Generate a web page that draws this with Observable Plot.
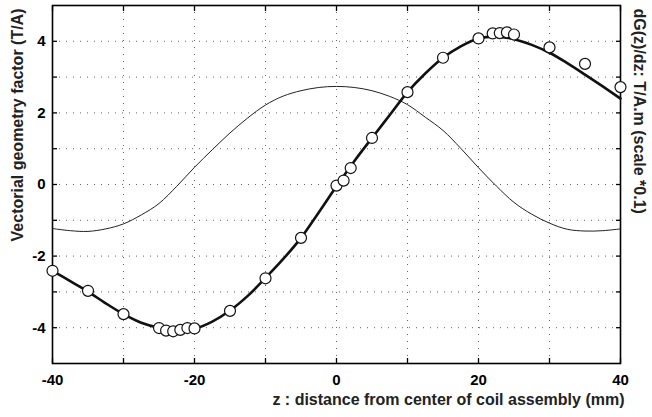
<!DOCTYPE html>
<html>
<head>
<meta charset="utf-8">
<script src="https://cdn.jsdelivr.net/npm/d3@7"></script>
<script src="https://cdn.jsdelivr.net/npm/@observablehq/plot@0.6"></script>
<style>
  html, body { margin: 0; padding: 0; background: white; }
  #chart svg { display: block; }
</style>
</head>
<body>
<div id="chart"></div>
<script>
// Smooth curve samples (z in mm)
const zCurve = [-40,-37.5,-35,-32.5,-30,-27.5,-25,-22.5,-20,-17.5,-15,-12.5,-10,-7.5,-5,-2.5,0,2.5,5,7.5,10,12.5,15,17.5,20,22.5,25,27.5,30,32.5,35,37.5,40];
// Vectorial geometry factor (T/A), thick line
const gCurve = [-2.41,-2.70,-2.99,-3.32,-3.62,-3.86,-4.00,-4.06,-4.03,-3.83,-3.52,-3.11,-2.61,-2.08,-1.49,-0.78,-0.05,0.65,1.30,1.94,2.58,3.10,3.54,3.86,4.08,4.13,4.06,3.90,3.68,3.39,3.07,2.74,2.40];
// dG(z)/dz scaled *0.1, thin line
const dgCurve = [-1.23,-1.29,-1.31,-1.24,-1.10,-0.85,-0.53,-0.05,0.48,0.97,1.44,1.86,2.22,2.47,2.62,2.71,2.74,2.71,2.62,2.46,2.23,1.88,1.51,1.01,0.47,-0.04,-0.50,-0.83,-1.08,-1.25,-1.30,-1.29,-1.24];
// Measured points (circles)
const zPts = [-40,-35,-30,-25,-24,-23,-22,-21,-20,-15,-10,-5,0,1,2,5,10,15,20,22,23,24,25,30,35,40];
const gPts = [-2.41,-2.97,-3.62,-4.01,-4.08,-4.10,-4.06,-4.01,-4.02,-3.53,-2.62,-1.49,-0.03,0.11,0.46,1.30,2.58,3.54,4.08,4.22,4.23,4.25,4.19,3.83,3.37,2.72];

const xTickLabels = [-40,-20,0,20,40];
const xTicks = [-40,-30,-20,-10,0,10,20,30,40];
const xGrid = [-30,-20,-10,0,10,20,30];
const yTickLabels = [-4,-2,0,2,4];
const yTicks = [-4,-3,-2,-1,0,1,2,3,4];
const yGrid = [-4,-3,-2,-1,0,1,2,3,4];

const xLabel = "z : distance from center of coil assembly (mm)";
const yLabel = "Vectorial geometry factor (T/A)";
const y2Label = "dG(z)/dz: T/A.m (scale *0.1)";

const curve = zCurve.map((z, i) => ({z, g: gCurve[i], dg: dgCurve[i]}));
const pts = zPts.map((z, i) => ({z, g: gPts[i]}));

const font = "'Liberation Sans', Arial, Helvetica, sans-serif";
const empty = () => "";

const chart = Plot.plot({
  width: 652,
  height: 417,
  marginLeft: 52,
  marginRight: 32,
  marginTop: 5,
  marginBottom: 54,
  style: {fontFamily: font, background: "white", color: "black"},
  x: {domain: [-40, 40]},
  y: {domain: [-5, 5]},
  marks: [
    Plot.gridX({ticks: xGrid, stroke: "#666", strokeOpacity: 1, strokeWidth: 1, strokeDasharray: "1,6"}),
    Plot.gridY({ticks: yGrid, stroke: "#666", strokeOpacity: 1, strokeWidth: 1, strokeDasharray: "1,6"}),
    // inward ticks on all four sides
    Plot.axisX({anchor: "bottom", ticks: xTicks, tickSize: -5, tickFormat: empty, label: null, strokeWidth: 1.3}),
    Plot.axisX({anchor: "top", ticks: xTicks, tickSize: -5, tickFormat: empty, label: null, strokeWidth: 1.3}),
    Plot.axisY({anchor: "left", ticks: yTicks, tickSize: -5, tickFormat: empty, label: null, strokeWidth: 1.3}),
    Plot.axisY({anchor: "right", ticks: yTicks, tickSize: -5, tickFormat: empty, label: null, strokeWidth: 1.3}),
    // tick labels
    Plot.axisX({anchor: "bottom", ticks: xTickLabels, tickSize: 0, tickPadding: 11, label: null, fontSize: 15, fontWeight: "bold", tickFormat: d => String(d)}),
    Plot.axisY({anchor: "left", ticks: yTickLabels, tickSize: 0, tickPadding: 7, label: null, fontSize: 15, fontWeight: "bold", tickFormat: d => String(d)}),
    Plot.frame({stroke: "black", strokeWidth: 1.6}),
    // curves
    Plot.line(curve, {x: "z", y: "dg", curve: "catmull-rom", stroke: "#222", strokeWidth: 1}),
    Plot.line(curve, {x: "z", y: "g", curve: "catmull-rom", stroke: "#111", strokeWidth: 2.6}),
    Plot.dot(pts, {x: "z", y: "g", r: 5.5, fill: "white", stroke: "#111", strokeWidth: 1.2}),
    // axis titles
    Plot.text([xLabel], {text: d => d, frameAnchor: "bottom-right", textAnchor: "end", lineAnchor: "middle", dx: 4, dy: 36, fontSize: 16, fontWeight: "bold", fill: "#222"}),
    Plot.text([yLabel], {text: d => d, frameAnchor: "top-left", textAnchor: "end", lineAnchor: "middle", rotate: -90, dx: -35, dy: 3, fontSize: 16, fontWeight: "bold", fill: "#222"}),
    Plot.text([y2Label], {text: d => d, frameAnchor: "top-right", textAnchor: "start", lineAnchor: "middle", rotate: 90, dx: 19, dy: 3, fontSize: 16, fontWeight: "bold", fill: "#222"})
  ]
});
document.getElementById("chart").appendChild(chart);
</script>
</body>
</html>
